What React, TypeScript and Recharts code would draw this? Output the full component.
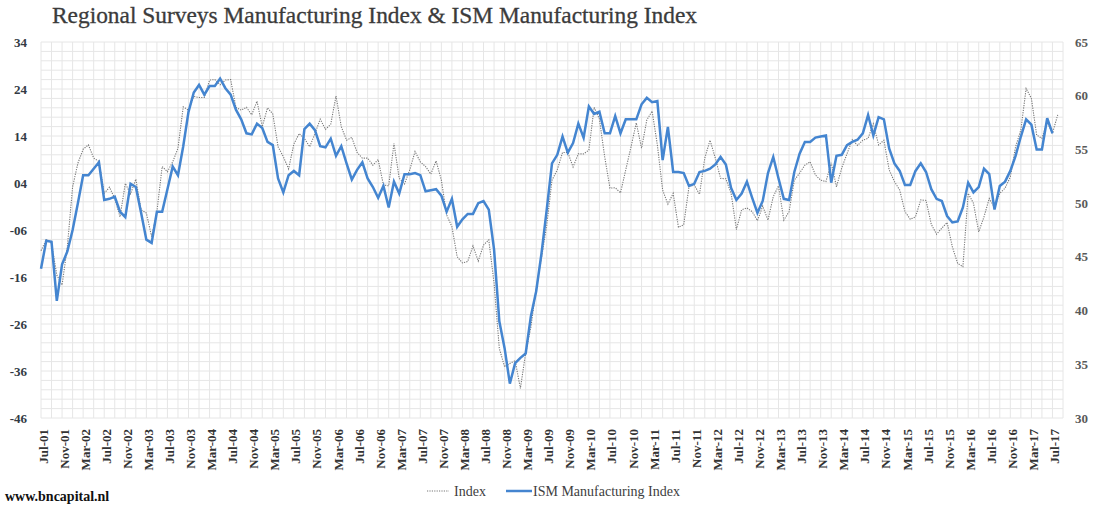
import React from "react";
import { LineChart, Line, XAxis, YAxis, CartesianGrid } from "recharts";

// monthly, Jul-01 .. Sep-17 (last slot is empty, like the source axis)
const START_YEAR = 2001;
const START_MONTH = 6; // July (0-based)
const N_SLOTS = 195;
const MONTH_NAMES = ["Jan", "Feb", "Mar", "Apr", "May", "Jun", "Jul", "Aug", "Sep", "Oct", "Nov", "Dec"];

// Regional surveys composite (left axis)
const regionalIndex = [
  -10.4, -8.1, -8.8, -15.6, -17.7, -9.6, 3.2, 8.2, 11.2, 12.1, 9.3, 8.6,
  1.8, 3.1, 0.7, -3.2, 3.9, 1.7, 4.8, -1.7, -2.4, -7.4, -2.1, 7.5,
  6.4, 8.5, 11.4, 20.2, 19.5, 22.4, 22.2, 22.2, 25.9, 26.0, 24.9, 25.9,
  26.0, 20.1, 19.5, 20.1, 18.5, 21.4, 16.0, 20.0, 18.7, 11.7, 9.6, 7.0,
  12.3, 14.5, 13.5, 11.7, 14.5, 17.6, 15.4, 16.5, 22.5, 16.0, 13.1, 13.7,
  10.5, 9.3, 9.3, 7.8, 9.0, 3.6, 3.4, 12.4, 5.0, 3.8, 6.8, 10.7,
  8.5, 7.5, 5.9, 8.7, 4.6, -2.8, -5.3, -11.7, -13.0, -12.7, -9.4, -12.6,
  -9.2, -8.1, -17.3, -31.2, -35.1, -34.4, -33.8, -39.7, -32.2, -26.6, -18.4, -12.0,
  -5.0, 4.6, 6.8, 10.5, 10.5, 7.4, 10.2, 10.2, 11.0, 20.1, 17.6, 9.6,
  2.9, 3.0, 1.9, 6.8, 11.7, 16.8, 11.4, 17.4, 19.3, 12.1, 2.5, -0.5,
  1.8, -5.4, -4.9, 3.2, 3.6, 1.6, 9.3, 13.1, 9.3, 5.0, 4.9, 1.8,
  -5.9, -1.7, -1.3, -2.1, -4.0, -0.9, -3.9, 1.1, 3.4, -3.9, -2.1, 4.6,
  6.1, 7.8, 8.5, 5.7, 4.6, 4.3, 8.3, 3.2, 7.2, 10.2, 13.2, 12.0,
  13.1, 13.5, 16.6, 12.1, 13.1, 6.8, 4.3, 2.5, -2.1, -3.7, -3.2, 0.4,
  0.3, -4.8, -6.9, -5.6, -4.4, -9.6, -13.1, -13.8, 1.8, -0.3, -6.4, -3.2,
  0.7, -1.2, 1.8, 2.9, 5.3, 11.7, 15.3, 24.1, 22.0, 14.2, 13.5, 17.0,
  14.6, 18.5,
];

// ISM Manufacturing PMI (right axis)
const ismIndex = [
  43.9, 46.5, 46.4, 40.9, 44.3, 45.5, 47.5, 50.0, 52.6, 52.6, 53.2, 53.8,
  50.3, 50.4, 50.6, 49.2, 48.7, 51.8, 51.5, 49.1, 46.6, 46.3, 49.2, 49.2,
  51.3, 53.4, 52.6, 55.3, 58.5, 60.3, 61.0, 60.1, 60.9, 60.9, 61.6, 60.7,
  60.1, 58.7, 57.8, 56.5, 56.4, 57.4, 57.0, 55.7, 55.4, 52.3, 51.0, 52.6,
  53.0, 52.6, 56.9, 57.4, 56.8, 55.3, 55.2, 56.0, 54.4, 55.3, 53.7, 52.2,
  53.1, 53.8, 52.3, 51.5, 50.5, 51.6, 49.6, 52.0, 50.9, 52.7, 52.7, 52.8,
  52.6, 51.1, 51.2, 51.3, 50.7, 49.2, 50.4, 47.8, 48.5, 49.0, 49.0, 50.0,
  50.2, 49.4, 45.7, 39.0, 36.5, 33.2, 35.1, 35.6, 36.0, 39.5, 41.8, 45.3,
  49.4, 53.7, 54.5, 56.2, 54.7, 55.6, 57.4, 56.1, 59.0, 58.3, 58.5, 56.5,
  56.5, 58.1, 56.5, 57.8, 57.8, 57.8, 59.2, 59.8, 59.4, 59.5, 54.0, 57.1,
  52.9, 52.9, 52.8, 51.6, 51.8, 52.9, 53.0, 53.2, 53.6, 54.3, 53.6, 51.4,
  50.3, 50.9, 52.0, 50.5, 49.1, 50.2, 52.8, 54.3, 52.3, 50.4, 50.3, 52.9,
  54.6, 55.7, 55.7, 56.1, 56.2, 56.3, 51.9, 54.4, 54.5, 55.4, 55.7, 55.9,
  56.5, 58.2, 56.3, 58.0, 57.8, 55.1, 53.7, 53.0, 51.7, 51.7, 53.0, 53.7,
  52.9, 51.3, 50.4, 50.2, 48.8, 48.2, 48.3, 49.6, 51.9, 51.0, 51.5, 53.2,
  52.7, 49.4, 51.6, 52.0, 53.0, 54.4, 56.2, 57.8, 57.3, 55.0, 55.0, 57.9,
  56.5,
];

const leftTicks = [-46, -36, -26, -16, -6, 4, 14, 24, 34];
const leftTickLabels = ["-46", "-36", "-26", "-16", "-06", "04", "14", "24", "34"];
const rightTicks = [30, 35, 40, 45, 50, 55, 60, 65];

const months: string[] = [];
for (let i = 0; i < N_SLOTS; i++) {
  const m = (START_MONTH + i) % 12;
  const y = START_YEAR + Math.floor((START_MONTH + i) / 12);
  months.push(`${MONTH_NAMES[m]}-${String(y % 100).padStart(2, "0")}`);
}

const data = months.map((month, i) => ({
  month,
  index: regionalIndex[i] ?? null,
  ism: ismIndex[i] ?? null,
}));

const SERIF = "'Liberation Serif', 'DejaVu Serif', serif";
const BLUE = "#4485D0";
const GRID = "#e6e6e6";

function XTick({ x, y, payload }: any) {
  const cx = x + 2;
  return (
    <text
      x={cx}
      y={y}
      transform={`rotate(-90 ${cx} ${y})`}
      textAnchor="end"
      dy="0.35em"
      fontFamily={SERIF}
      fontWeight="bold"
      fontSize={13}
      fill="#333"
    >
      {payload.value}
    </text>
  );
}

export default function App() {
  return (
    <div style={{ position: "absolute", left: 0, top: 0, width: 1096, height: 506, background: "#fff" }}>
      <div
        style={{
          position: "absolute",
          left: 52,
          top: 3.5,
          fontFamily: SERIF,
          fontSize: 23.4,
          lineHeight: "23px",
          color: "#3b3b3b",
          whiteSpace: "nowrap",
          WebkitTextStroke: "0.3px #3b3b3b",
        }}
      >
        Regional Surveys Manufacturing Index &amp; ISM Manufacturing Index
      </div>

      <LineChart width={1096} height={506} data={data} margin={{ top: 42, right: 0, bottom: 28, left: 6 }}>
        <CartesianGrid
          stroke={GRID}
          strokeWidth={1}
          horizontalCoordinatesGenerator={({ offset }: any) =>
            Array.from({ length: 41 }, (_, k) => offset.top + (k * offset.height) / 40)
          }
          verticalCoordinatesGenerator={({ offset }: any) =>
            Array.from({ length: 98 }, (_, k) => offset.left + (k * 2 * offset.width) / (N_SLOTS - 1))
          }
        />
        <XAxis
          dataKey="month"
          interval={3}
          axisLine={false}
          tickLine={false}
          tickSize={6}
          tickMargin={5}
          height={60}
          tick={<XTick />}
        />
        <YAxis
          yAxisId="left"
          domain={[-46, 34]}
          ticks={leftTicks}
          tickFormatter={(v: number) => leftTickLabels[leftTicks.indexOf(v)] ?? String(v)}
          axisLine={false}
          tickLine={false}
          tickSize={6}
          tickMargin={8}
          width={35}
          allowDataOverflow
          tick={{ fontFamily: SERIF, fontWeight: "bold", fontSize: 13, fill: "#333a44" }}
        />
        <YAxis
          yAxisId="right"
          orientation="right"
          domain={[30, 65]}
          ticks={rightTicks}
          axisLine={false}
          tickLine={false}
          tickSize={6}
          tickMargin={6}
          width={33}
          allowDataOverflow
          tick={{ fontFamily: SERIF, fontWeight: "bold", fontSize: 13, fill: "#595959" }}
        />
        <Line
          yAxisId="left"
          dataKey="index"
          type="linear"
          stroke="#777"
          strokeWidth={1.1}
          strokeDasharray="1.2 1.2"
          dot={false}
          isAnimationActive={false}
        />
        <Line
          yAxisId="right"
          dataKey="ism"
          type="linear"
          stroke={BLUE}
          strokeWidth={2.5}
          dot={false}
          isAnimationActive={false}
        />
      </LineChart>

      {/* legend */}
      <svg style={{ position: "absolute", left: 0, top: 0 }} width={1096} height={506} pointerEvents="none">
        <line x1={427} x2={449} y1={491} y2={491} stroke="#777" strokeWidth={1.1} strokeDasharray="1.2 1.2" />
        <line x1={506} x2={532} y1={491} y2={491} stroke={BLUE} strokeWidth={2.5} />
      </svg>
      <div style={{ position: "absolute", left: 454, top: 485, fontFamily: SERIF, fontSize: 14, lineHeight: "14px", color: "#404040" }}>
        Index
      </div>
      <div style={{ position: "absolute", left: 533, top: 485, fontFamily: SERIF, fontSize: 14, lineHeight: "14px", color: "#404040", whiteSpace: "nowrap" }}>
        ISM Manufacturing Index
      </div>

      <div style={{ position: "absolute", left: 5, top: 490, fontFamily: SERIF, fontWeight: "bold", fontSize: 14, lineHeight: "14px", color: "#111" }}>
        www.bncapital.nl
      </div>
    </div>
  );
}
